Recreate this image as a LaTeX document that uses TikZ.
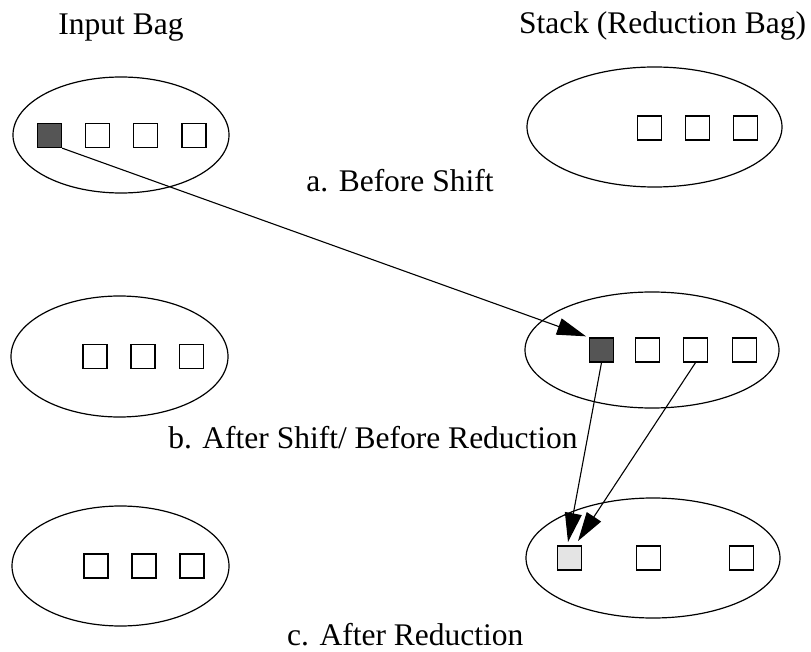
\documentclass[tikz,border=0pt]{standalone}
\usepackage{fontspec}
\setmainfont{Liberation Serif}
\usetikzlibrary{arrows.meta,shapes.geometric}
\definecolor{darkbox}{HTML}{555555}
\definecolor{lightbox}{HTML}{E4E4E4}
\tikzset{
  bag/.style={draw, line width=1.2pt},
  tok/.style={draw, line width=1.3pt, minimum size=24pt, inner sep=0pt, fill=white},
  lbl/.style={font=\fontsize{31.5}{36}\selectfont, inner sep=0pt, anchor=base},
  conn/.style={line width=1.1pt, -{Triangle[length=29pt,width=17pt]}},
}
\begin{document}
\begin{tikzpicture}[x=1pt,y=-1pt]
\useasboundingbox (0,0) rectangle (811,652);
% ellipses
\draw[bag] (121,135) ellipse [x radius=108, y radius=58];
\draw[bag] (654.5,127) ellipse [x radius=127.5, y radius=60];
\draw[bag] (119.5,356.5) ellipse [x radius=108.5, y radius=60.5];
\draw[bag] (652,350) ellipse [x radius=127, y radius=58];
\draw[bag] (120.5,566) ellipse [x radius=108.5, y radius=60];
\draw[bag] (653,558) ellipse [x radius=127, y radius=60];
% labels
\node[lbl] (tin) at (121,35) {Input Bag};
\node[lbl] (tst) at (662.5,34) {Stack (Reduction Bag)};
\node[lbl] (ta) at (400,192) {a. Before Shift};
\node[lbl] (tb) at (373,448) {b. After Shift/ Before Reduction};
\node[lbl, anchor=base west] (tc) at (287,645) {c. After Reduction};
% row a
\node[tok, fill=darkbox] (ia1) at (49.5,135.5) {};
\node[tok] (ia2) at (97.5,135.5) {};
\node[tok] (ia3) at (145.5,135.5) {};
\node[tok] (ia4) at (194,135.5) {};
\node[tok] (sa1) at (649.5,128) {};
\node[tok] (sa2) at (697.5,128) {};
\node[tok] (sa3) at (745.5,128) {};
% row b
\node[tok] (ib1) at (95,356.5) {};
\node[tok] (ib2) at (143,356.5) {};
\node[tok] (ib3) at (191.5,356.5) {};
\node[tok, fill=darkbox] (sb1) at (601.5,350) {};
\node[tok] (sb2) at (647.5,350) {};
\node[tok] (sb3) at (695.5,350) {};
\node[tok] (sb4) at (744.5,350) {};
% row c
\node[tok] (ic1) at (96,566) {};
\node[tok] (ic2) at (144,566) {};
\node[tok] (ic3) at (192,566) {};
\node[tok, fill=lightbox] (sc1) at (569.5,558) {};
\node[tok] (sc2) at (648.5,558) {};
\node[tok] (sc3) at (741.5,558) {};
% connectors
\coordinate (t2) at (568,542);
\coordinate (t3) at (578,541);
\draw[conn, shorten >=3pt] (ia1.south east) -- (sb1.north west);
\draw[conn] (sb1.south) -- (t2);
\draw[conn] (sb3.south) -- (t3);
\end{tikzpicture}
\end{document}
